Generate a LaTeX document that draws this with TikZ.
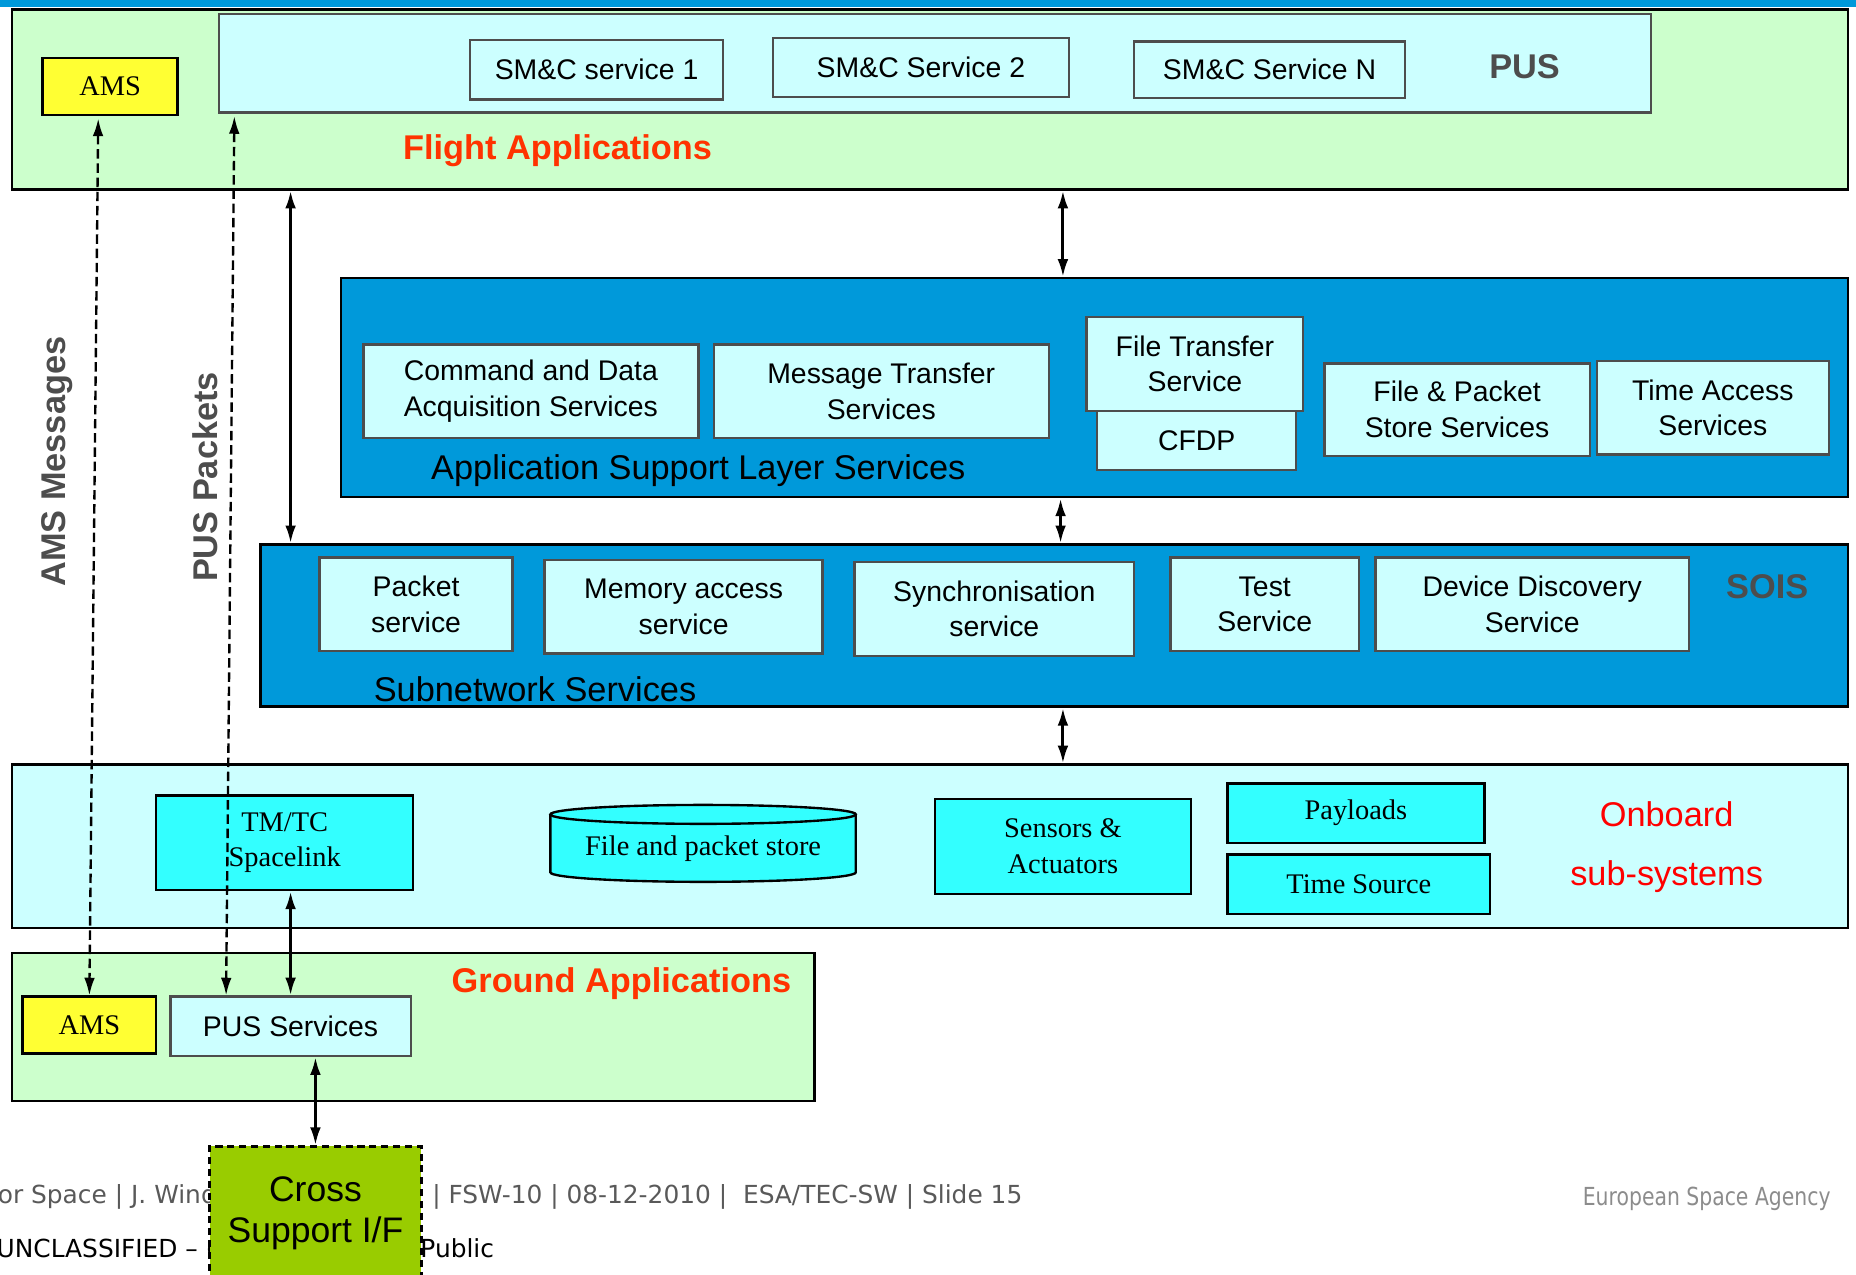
\documentclass[tikz,border=0pt]{standalone}
\usepackage{fontspec}
\setmainfont{Liberation Sans}
\newfontfamily\timesfont{Liberation Serif}
\newfontfamily\esafont[FakeStretch=0.82]{DejaVu Sans}
\newfontfamily\slidefont{DejaVu Sans}
\usetikzlibrary{arrows.meta}

\definecolor{lgreen}{HTML}{CCFFCC}
\definecolor{lcyan}{HTML}{CCFFFF}
\definecolor{asblue}{HTML}{0099DA}
\definecolor{hwcyan}{HTML}{33FFFF}
\definecolor{amsyellow}{HTML}{FFFF33}
\definecolor{xgreen}{HTML}{99CC00}
\definecolor{titlered}{HTML}{FF3300}
\definecolor{labelgrey}{HTML}{4D4D4D}
\definecolor{boxgrey}{HTML}{4D4D4D}
\definecolor{footgrey}{HTML}{595959}
\definecolor{esagrey}{HTML}{8C8C8C}

\newcommand\svcfont{\fontsize{24}{30}\selectfont}
\newcommand\bigfont{\fontsize{29}{35}\selectfont}
\newcommand\hwfont{\timesfont\fontsize{24}{30}\selectfont}
\newcommand\footfont{\slidefont\fontsize{21}{25}\selectfont}
\newcommand\esalogofont{\esafont\fontsize{21}{25}\selectfont}

\begin{document}
\begin{tikzpicture}[x=1pt,y=-1pt,
    layerbox/.style={draw,line width=2pt,inner sep=0pt},
    svc/.style={draw=boxgrey,fill=lcyan,line width=2pt,inner sep=0pt,
                align=center,font=\svcfont},
    hw/.style={draw,fill=hwcyan,line width=2pt,inner sep=0pt,
               align=center,font=\hwfont},
    ams/.style={draw,fill=amsyellow,line width=2pt,inner sep=0pt,
                font=\hwfont},
    grouptitle/.style={font=\bigfont\bfseries,text=titlered},
    tagtext/.style={font=\bigfont\bfseries,text=labelgrey},
    dlink/.style={{Latex[length=15pt,width=9pt]}-{Latex[length=15pt,width=9pt]},
                  line width=2.5pt},
    msgflow/.style={dlink,line width=2pt,dash pattern=on 8pt off 4pt},
    ]
    \useasboundingbox (0,0) rectangle (1568,1077);
    % top bar
    \fill[asblue] (0,0) rectangle (1568,6);

    % Flight Applications
    \node[layerbox,fill=lgreen,minimum width=1551,minimum height=152]
        (flight) at (785.5,84) {};
    \node[draw=boxgrey,fill=lcyan,line width=2pt,minimum width=1210,
        minimum height=83] (pusbox) at (790,53.5) {};
    \node[ams,minimum width=114,minimum height=48] (amsF) at (93,73) {AMS};
    \node[svc,minimum width=214,minimum height=50] (smc1) at (504,59) {SM\&C service 1};
    \node[svc,minimum width=250,minimum height=50] (smc2) at (778,57) {SM\&C Service 2};
    \node[svc,minimum width=229,minimum height=48] (smcN) at (1072.5,59) {SM\&C Service N};
    \node[tagtext] (puslbl) at (1288,56) {PUS};
    \node[grouptitle] (flightlbl) at (471,127) {Flight Applications};

    % Application Support Layer
    \node[layerbox,fill=asblue,minimum width=1273,minimum height=185]
        (asl) at (924.5,327.5) {};
    \node[svc,minimum width=283,minimum height=79] (cdas) at (448.5,330.5)
        {Command and Data\\Acquisition Services};
    \node[svc,minimum width=283,minimum height=79] (mts) at (744.5,330.5)
        {Message Transfer\\Services};
    \node[svc,minimum width=168,minimum height=50] (cfdp) at (1011,372) {CFDP};
    \node[svc,minimum width=183,minimum height=79] (fts) at (1009.5,307.5)
        {File Transfer\\Service};
    \node[svc,minimum width=224,minimum height=78] (fpss) at (1231,346)
        {File \& Packet\\Store Services};
    \node[svc,minimum width=196,minimum height=79] (tas) at (1447,344.5)
        {Time Access\\Services};
    \node[font=\bigfont] (asllbl) at (590,398) {Application Support Layer Services};

    % Subnetwork
    \node[layerbox,fill=asblue,minimum width=1341,minimum height=137]
        (sub) at (890.5,528.5) {};
    \node[svc,minimum width=163,minimum height=79] (pkt) at (351.5,510.5)
        {Packet\\service};
    \node[svc,minimum width=235,minimum height=79] (mem) at (577.5,512.5)
        {Memory access\\service};
    \node[svc,minimum width=236,minimum height=79] (sync) at (840,514.5)
        {Synchronisation\\service};
    \node[svc,minimum width=159,minimum height=79] (test) at (1068.5,510.5)
        {Test\\Service};
    \node[svc,minimum width=265,minimum height=79] (ddisc) at (1294.5,510.5)
        {Device Discovery\\Service};
    \node[tagtext] (soislbl) at (1493,496) {SOIS};
    \node[font=\bigfont] (sublbl) at (452,582) {Subnetwork Services};

    % Onboard sub-systems
    \node[layerbox,fill=lcyan,minimum width=1551,minimum height=138]
        (onboard) at (785.5,715) {};
    \node[hw,minimum width=217,minimum height=80] (tmtc) at (240.5,712)
        {TM/TC\\Spacelink};
    \filldraw[fill=hwcyan,line width=2pt] (465,688) -- (465,737)
        arc[start angle=180,end angle=0,x radius=129,y radius=8] -- (723,688);
    \filldraw[fill=hwcyan,line width=2pt] (594,688) ellipse[x radius=129,y radius=8];
    \node[font=\hwfont] (store) at (594,717) {File and packet store};
    \node[hw,minimum width=216,minimum height=80] (sens) at (898,715)
        {Sensors \&\\Actuators};
    \node[hw,minimum width=217,minimum height=50] (pay) at (1145.5,687) {Payloads};
    \node[hw,minimum width=222,minimum height=50] (tsrc) at (1148,747) {Time Source};
    \node[font=\fontsize{29}{50}\selectfont,text=red,align=center]
        (onblbl) at (1408,716) {Onboard\\sub-systems};

    % Ground Applications
    \node[layerbox,fill=lgreen,minimum width=678,minimum height=125]
        (ground) at (349,867.5) {};
    \node[ams,minimum width=113,minimum height=48] (amsG) at (75.5,866) {AMS};
    \node[svc,minimum width=203,minimum height=50] (puss) at (245.5,867) {PUS Services};
    \node[grouptitle] (groundlbl) at (525,831) {Ground Applications};

    % footer
    \node[font=\footfont,text=footgrey,anchor=base west,inner sep=0pt]
        (foot1) at (-2,1017) {or Space | J. Wind};
    \node[font=\footfont,text=footgrey,anchor=base west,inner sep=0pt]
        (foot2) at (365,1017) {| FSW-10 | 08-12-2010 |\ \ ESA/TEC-SW | Slide 15};
    \node[font=\footfont,anchor=base west,inner sep=0pt]
        (foot3) at (-3,1062) {UNCLASSIFIED – (};
    \node[font=\footfont,anchor=base west,inner sep=0pt]
        (foot4) at (355,1062) {Public};
    \node[font=\esalogofont,text=esagrey,anchor=base west,inner sep=0pt]
        (esa) at (1337,1018) {European Space Agency};

    % Cross support
    \node[draw,fill=xgreen,line width=2pt,dash pattern=on 6pt off 4pt,
        minimum width=179,minimum height=113,align=center,
        font=\fontsize{30}{35}\selectfont] (cross) at (266.5,1025)
        {Cross\\Support I/F};

    % connectors
    \draw[dlink] (flight.south -| puss.north) -- (sub.north -| puss.north);
    \draw[dlink] (flight.south -| sens.north) -- (asl.north -| sens.north);
    \draw[dlink] (asl.south -| 896,0) -- (sub.north -| 896,0);
    \draw[dlink] (sub.south -| sens.north) -- (onboard.north -| sens.north);
    \draw[dlink] (tmtc.south -| puss.north) -- (puss.north);
    \draw[dlink] (puss.south -| cross.north) -- (cross.north);
    \draw[msgflow] ([xshift=-10pt,yshift=-2pt]amsF.south) -- (amsG.north);
    \draw[msgflow] ([xshift=14pt,yshift=-2pt]pusbox.south west)
        -- ([xshift=48pt]puss.north west);

    % flow labels
    \node[tagtext,rotate=90] (msglbl) at (48,390) {AMS Messages};
    \node[tagtext,rotate=90] (pktlbl) at (173,403) {PUS Packets};
\end{tikzpicture}
\end{document}
